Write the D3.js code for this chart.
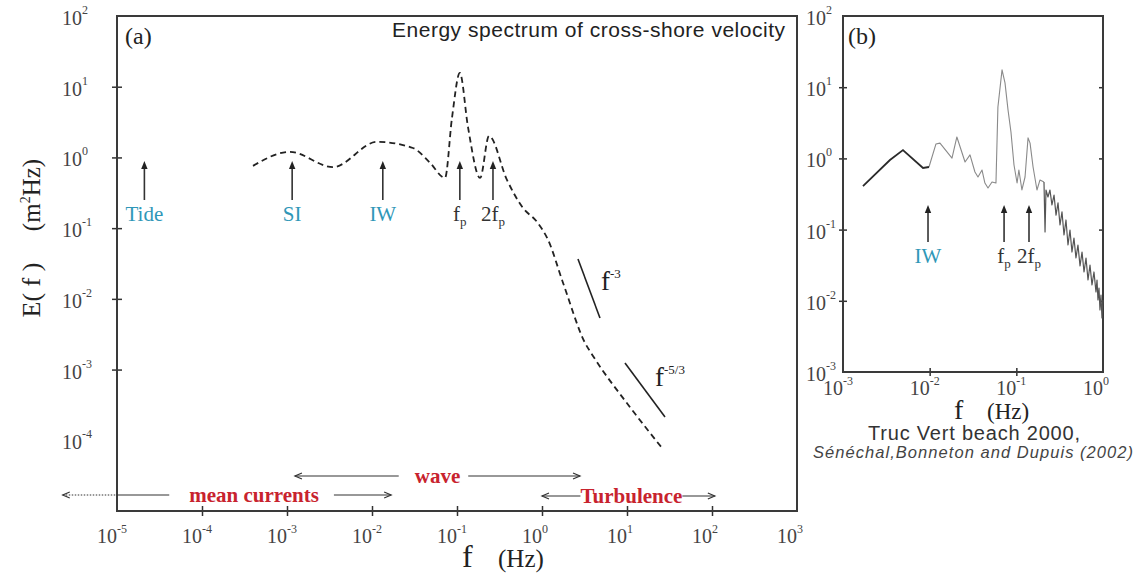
<!DOCTYPE html>
<html><head><meta charset="utf-8">
<script src="https://cdn.jsdelivr.net/npm/d3@7"></script>
<style>body{margin:0;background:#fff}svg{display:block}</style>
</head><body>
<svg id="chart" width="1143" height="577"></svg>
<script>
// ---------------- DATA ----------------
// Panel (a): schematic spectrum (dashed)
const specA_f = [3.98e-4, 1.08e-3, 3.47e-3, 0.01146, 0.0303, 0.0481, 0.0723, 0.0873, 0.108, 0.1346, 0.187, 0.238, 0.387, 0.597, 0.873, 1.18, 1.77, 3.21, 3.98, 10.8, 25.8];
const specA_E = [0.76, 1.20, 0.73, 1.66, 1.36, 0.84, 0.513, 3.62, 15.7, 2.70, 0.513, 2.01, 0.481, 0.193, 0.1225, 0.068, 0.0168, 2.38e-3, 1.56e-3, 2.96e-4, 7.8e-5];
// reference slopes
const slope3_f = [2.65, 4.81];
const slope3_E = [0.0366, 5.37e-3];
const slope53_f = [9.47, 28.0];
const slope53_E = [1.24e-3, 2.14e-4];
// tick exponents
const xTicksA = [-5, -4, -3, -2, -1, 0, 1, 2, 3];
const yTicksA = [2, 1, 0, -1, -2, -3, -4];
const xTicksB = [-3, -2, -1, 0];
const yTicksB = [2, 1, 0, -1, -2, -3];
// markers panel (a)
const markA_labels = ["Tide", "SI", "IW", "f_p", "2f_p"];
const markA_f = [2.1e-5, 1.15e-3, 0.0134, 0.108, 0.265];
const markA_tipE = 0.89, markA_baseE = 0.25;
// frequency ranges panel (a)
const rangeA_labels = ["mean currents", "wave", "Turbulence"];
const rangeA_from = [1e-5, 1.24e-3, 1.0];
const rangeA_to = [0.0168, 2.8, 108];
const rangeA_dottedFrom = 2.3e-6;
// Panel (b): measured spectrum
const specB_low_f = [1.70e-3, 3.48e-3, 4.92e-3, 8.38e-3, 9.82e-3];
const specB_low_E = [0.409, 0.95, 1.31, 0.733, 0.757];
const specB_mid_f = [9.82e-3, 0.0118, 0.01315, 0.0181, 0.0206, 0.0256, 0.0292, 0.0333, 0.0361, 0.0402, 0.0434, 0.0471, 0.0524, 0.0582, 0.0613, 0.0684, 0.074, 0.0802, 0.0867, 0.094, 0.102, 0.107, 0.116, 0.126, 0.1365, 0.144, 0.156, 0.173, 0.1875, 0.2085];
const specB_mid_E = [0.757, 1.59, 1.64, 1.01, 2.0, 0.889, 1.12, 0.644, 0.548, 0.687, 0.451, 0.384, 0.466, 0.451, 5.27, 17.5, 11.5, 4.79, 2.35, 0.807, 0.451, 0.687, 0.36, 0.548, 1.94, 1.64, 0.757, 0.36, 0.498, 0.466];
const specB_tail_f = [0.2085, 0.2144, 0.2198, 0.2317, 0.2443, 0.2576, 0.2723, 0.2871, 0.3027, 0.3192, 0.3365, 0.3548, 0.3741, 0.3945, 0.4159, 0.4385, 0.4624, 0.4875, 0.514, 0.5433, 0.5728, 0.604, 0.6368, 0.6714, 0.7079, 0.7464, 0.787, 0.8298, 0.853, 0.875, 0.899, 0.9226, 0.948, 0.973, 1.0];
const specB_tail_E = [0.466, 0.0925, 0.36, 0.287, 0.36, 0.222, 0.306, 0.160, 0.237, 0.116, 0.177, 0.084, 0.1365, 0.0608, 0.0986, 0.0484, 0.0762, 0.0399, 0.0608, 0.0308, 0.0484, 0.0254, 0.0399, 0.0196, 0.0318, 0.0167, 0.0254, 0.0133, 0.0196, 0.01026, 0.0151, 0.00743, 0.0120, 0.00573, 0.01026];
const markB_labels = ["IW", "f_p", "2f_p"];
const markB_f = [9.57e-3, 0.0722, 0.14];
const markB_tipE = 0.222, markB_baseE = 0.067;

// ---------------- DRAW ----------------
const svg = d3.select("#chart");
const serif = "'Liberation Serif','Times New Roman',serif";
const sans = "'Liberation Sans',Arial,sans-serif";
const ink = "#333", teal = "#2f97b8", red = "#c8232e";

function panel(xs, ys, xTicks, yTicks, opt) {
  const g = svg.append("g");
  const [x0, x1] = xs.range(), [y0, y1] = ys.range();
  const ax = g.append("g").attr("transform", `translate(0,${y0})`)
    .call(d3.axisBottom(xs).tickValues(xTicks.slice(1, -1).map(e => Math.pow(10, e))).tickFormat("").tickSize(opt.tk));
  ax.select(".domain").remove();
  ax.selectAll(".tick line").attr("y1", -opt.tk).attr("y2", opt.tk).attr("stroke", ink).attr("stroke-width", 1.5);
  const ay = g.append("g").attr("transform", `translate(${x0},0)`)
    .call(d3.axisLeft(ys).tickValues(yTicks.slice(1, -1).map(e => Math.pow(10, e))).tickFormat("").tickSize(opt.tk));
  ay.select(".domain").remove();
  ay.selectAll(".tick line").attr("x1", -opt.tk).attr("x2", opt.tk).attr("stroke", ink).attr("stroke-width", 1.5);
  if (opt.rightTicks) {
    const ar = g.append("g").attr("transform", `translate(${x1},0)`)
      .call(d3.axisRight(ys).tickValues(yTicks.slice(1, -1).map(e => Math.pow(10, e))).tickFormat("").tickSize(opt.tk));
    ar.select(".domain").remove();
    ar.selectAll(".tick line").attr("x1", -opt.tk).attr("x2", 0).attr("stroke", ink).attr("stroke-width", 1.5);
  }
  g.append("rect").attr("x", x0).attr("y", y1).attr("width", x1 - x0).attr("height", y0 - y1)
    .attr("fill", "none").attr("stroke", "#3a3a3a").attr("stroke-width", 2);
  xTicks.forEach(e => {
    const t = g.append("text").attr("x", xs(Math.pow(10, e)) - 20).attr("y", y0 + opt.xlabOff)
      .attr("font-family", serif).attr("font-size", 20).attr("fill", "#444");
    t.append("tspan").text("10");
    t.append("tspan").attr("dy", -10).attr("font-size", 12).text(e);
  });
  yTicks.forEach(e => {
    const t = g.append("text").attr("x", opt.ylabX).attr("y", ys(Math.pow(10, e)) + 9)
      .attr("font-family", serif).attr("font-size", 20).attr("fill", "#444");
    t.append("tspan").text("10");
    t.append("tspan").attr("dy", -11).attr("font-size", 12).text(e);
  });
  return g;
}

function subLabel(g, x, y, lab, color, size) {
  const t = g.append("text").attr("x", x).attr("y", y).attr("text-anchor", "middle")
    .attr("font-family", serif).attr("font-size", size).attr("fill", color);
  if (lab.includes("_")) {
    const [a, b] = lab.split("_");
    t.append("tspan").text(a);
    t.append("tspan").attr("dy", 5).attr("font-size", size * 0.62).text(b);
  } else t.text(lab);
}

function upArrow(g, x, yTip, yBase) {
  g.append("line").attr("x1", x).attr("x2", x).attr("y1", yTip + 4).attr("y2", yBase)
    .attr("stroke", ink).attr("stroke-width", 1.6);
  g.append("path").attr("d", `M${x},${yTip} L${x - 3.2},${yTip + 8} L${x + 3.2},${yTip + 8} Z`).attr("fill", "#222");
}

// ----- Panel (a)
const xA = d3.scaleLog().domain([1e-5, 1e3]).range([117, 797]);
const yA = d3.scaleLog().domain([1e-5, 1e2]).range([511, 16]);
const gA = panel(xA, yA, xTicksA, yTicksA, { tk: 5, xlabOff: 32, ylabX: 62 });

const lineA = d3.line().x(d => xA(d[0])).y(d => yA(d[1])).curve(d3.curveMonotoneX);
gA.append("path").attr("d", lineA(d3.zip(specA_f, specA_E)))
  .attr("fill", "none").attr("stroke", "#222").attr("stroke-width", 1.8).attr("stroke-dasharray", "6,4");

const straight = d3.line().x(d => xA(d[0])).y(d => yA(d[1]));
gA.append("path").attr("d", straight(d3.zip(slope3_f, slope3_E))).attr("stroke", "#222").attr("stroke-width", 1.6);
gA.append("path").attr("d", straight(d3.zip(slope53_f, slope53_E))).attr("stroke", "#222").attr("stroke-width", 1.6);

function powLabel(g, x, y, exp) {
  const t = g.append("text").attr("x", x).attr("y", y).attr("font-family", serif).attr("font-size", 27).attr("fill", "#222");
  t.append("tspan").text("f");
  t.append("tspan").attr("dy", -12).attr("font-size", 13).text(exp);
}
powLabel(gA, 601, 290, "-3");
powLabel(gA, 655, 386, "-5/3");

markA_labels.forEach((lab, i) => {
  const x = xA(markA_f[i]);
  upArrow(gA, x, yA(markA_tipE), yA(markA_baseE));
  subLabel(gA, x, 221, lab, i < 3 ? teal : "#333", 21);
});

// frequency ranges
const rowY = [495, 476, 496];
const gaps = [[20, 15], [16, 8], [0, 0]];
function chevron(g, x, y, dir) {
  g.append("path").attr("d", `M${x + dir * 7},${y - 3} L${x},${y} L${x + dir * 7},${y + 3}`)
    .attr("fill", "none").attr("stroke", ink).attr("stroke-width", 1.2);
}
rangeA_labels.forEach((lab, i) => {
  const a = xA(rangeA_from[i]), b = xA(rangeA_to[i]), y = rowY[i];
  const cx = (a + b) / 2 + (i === 2 ? 3 : 0);
  const t = gA.append("text").attr("x", cx).attr("y", y + 7).attr("text-anchor", "middle")
    .attr("font-family", serif).attr("font-weight", "bold").attr("font-size", 21).attr("fill", red).text(lab);
  const w = t.node().getComputedTextLength();
  gA.append("line").attr("x1", a).attr("x2", cx - w / 2 - gaps[i][0]).attr("y1", y).attr("y2", y).attr("stroke", ink).attr("stroke-width", 1.2);
  gA.append("line").attr("x1", cx + w / 2 + gaps[i][1]).attr("x2", b).attr("y1", y).attr("y2", y).attr("stroke", ink).attr("stroke-width", 1.2);
  chevron(gA, b, y, -1);
  if (i === 0) {
    const d = xA(rangeA_dottedFrom);
    gA.append("line").attr("x1", d).attr("x2", a).attr("y1", y).attr("y2", y).attr("stroke", ink).attr("stroke-width", 1.2).attr("stroke-dasharray", "1.5,1.5");
    chevron(gA, d, y, 1);
  } else chevron(gA, a, y, 1);
});

// texts panel a
svg.append("text").attr("x", 125).attr("y", 44).attr("font-family", serif).attr("font-size", 24).attr("fill", "#222").text("(a)");
svg.append("text").attr("x", 392).attr("y", 37).attr("font-family", sans).attr("font-size", 21)
  .attr("textLength", 393).attr("lengthAdjust", "spacing").attr("fill", "#222").text("Energy spectrum of cross-shore velocity");
// y title
svg.append("text").attr("transform", "translate(40,290) rotate(-90)").attr("text-anchor", "middle")
  .attr("font-family", serif).attr("font-size", 26).attr("fill", "#222").text("E( f )");
const yt = svg.append("text").attr("transform", "translate(40,195) rotate(-90)").attr("text-anchor", "middle")
  .attr("font-family", serif).attr("font-size", 25).attr("fill", "#222");
yt.append("tspan").text("(m");
yt.append("tspan").attr("dy", -10).attr("font-size", 14).text("2");
yt.append("tspan").attr("dy", 10).text("Hz)");
// x title
function xTitle(x, y, fs, hs, dx) {
  svg.append("text").attr("x", x).attr("y", y).attr("font-family", serif).attr("font-size", fs).attr("fill", "#222").text("f");
  svg.append("text").attr("x", x + dx).attr("y", y).attr("font-family", serif).attr("font-size", hs).attr("fill", "#222").text("(Hz)");
}
xTitle(462, 567, 32, 25, 36);

// ----- Panel (b)
const xB = d3.scaleLog().domain([1e-3, 1]).range([843, 1103]);
const yB = d3.scaleLog().domain([1e-3, 1e2]).range([372, 16]);
const gB = panel(xB, yB, xTicksB, yTicksB, { tk: 4, xlabOff: 23, ylabX: 806, rightTicks: true });
const lineB = d3.line().x(d => xB(d[0])).y(d => yB(d[1]));
gB.append("path").attr("d", lineB(d3.zip(specB_mid_f, specB_mid_E)))
  .attr("fill", "none").attr("stroke", "#8a8a8a").attr("stroke-width", 1.1).attr("stroke-linejoin", "round");
gB.append("path").attr("d", lineB(d3.zip(specB_tail_f, specB_tail_E)))
  .attr("fill", "none").attr("stroke", "#555").attr("stroke-width", 1.2).attr("stroke-linejoin", "round");
gB.append("path").attr("d", lineB(d3.zip(specB_low_f, specB_low_E)))
  .attr("fill", "none").attr("stroke", "#2a2a2a").attr("stroke-width", 1.8);
markB_labels.forEach((lab, i) => {
  const x = xB(markB_f[i]);
  upArrow(gB, x, yB(markB_tipE), yB(markB_baseE));
  subLabel(gB, x, 263, lab, i < 1 ? teal : "#333", 21);
});
svg.append("text").attr("x", 848).attr("y", 44).attr("font-family", serif).attr("font-size", 24).attr("fill", "#222").text("(b)");
xTitle(954, 419, 28, 23, 33);
svg.append("text").attr("x", 868).attr("y", 440).attr("font-family", sans).attr("font-size", 20)
  .attr("textLength", 212).attr("lengthAdjust", "spacing").attr("fill", "#333").text("Truc Vert beach 2000,");
svg.append("text").attr("x", 813).attr("y", 458).attr("font-family", sans).attr("font-style", "italic").attr("font-size", 16.5)
  .attr("textLength", 320).attr("lengthAdjust", "spacing").attr("fill", "#444").text("Sénéchal,Bonneton and Dupuis (2002)");
</script>
</body></html>
